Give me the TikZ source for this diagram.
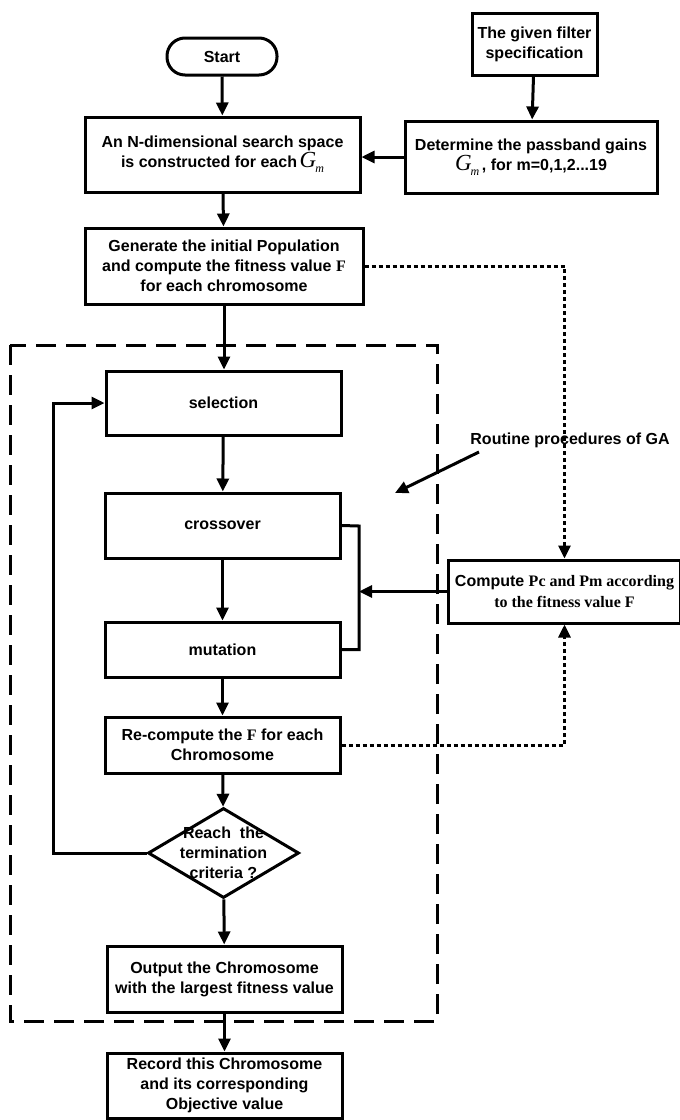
\documentclass[tikz,border=0pt]{standalone}
\usepackage{fontspec}
\setmainfont{Liberation Sans}
\newfontfamily\tms{Liberation Serif}
\usetikzlibrary{arrows.meta,shapes.geometric}
\newcommand{\Gm}{{\tms\mdseries\itshape\fontsize{23}{20}\selectfont G\kern-1pt\raisebox{-5pt}{\fontsize{12}{12}\selectfont m}}}
\newcommand{\tF}{{\tms\bfseries F}}
\begin{document}
\begin{tikzpicture}[x=1pt,y=-1pt,
	every node/.style={font=\fontsize{16}{20}\selectfont\bfseries,align=center,inner sep=1pt},
	proc/.style={rectangle,draw,line width=3pt},
	term/.style={proc,rounded corners=18pt},
	test/.style={diamond,draw,line width=3pt,inner sep=0pt},
	flow/.style={line width=3pt,-{Triangle[length=13pt,width=12pt]}},
	link/.style={line width=3pt},
	dots/.style={line width=3pt,dash pattern=on 4pt off 3pt},
	region/.style={line width=3pt,dash pattern=on 20pt off 10pt}]
\useasboundingbox (0,0) rectangle (680,1120);
\draw[region] (10,345) rectangle (437,1021);
\node[term,minimum width=110pt,minimum height=37pt] (start) at (222,56.5) {Start};
\node[proc,minimum width=275pt,minimum height=75pt] (space) at (222.5,154.5)
	{An N-dimensional search space\\is constructed for each\,\Gm};
\node[proc,minimum width=125pt,minimum height=62pt] (spec) at (534.5,44)
	{The given filter\\specification};
\node[proc,minimum width=252pt,minimum height=72pt] (gains) at (531,157)
	{Determine the passband gains\\\Gm\,, for m=0,1,2...19};
\node[proc,minimum width=278pt,minimum height=76pt] (init) at (224,266)
	{Generate the initial Population\\and compute the fitness value \tF\\for each chromosome};
\node[proc,minimum width=235pt,minimum height=64pt] (sel) at (223.5,403) {selection};
\node[proc,minimum width=235pt,minimum height=65pt] (cross) at (222.5,525.5) {crossover};
\node[proc,minimum width=235pt,minimum height=55pt] (mut) at (222.5,649.5) {mutation};
\node[proc,minimum width=235pt,minimum height=56pt] (recomp) at (222.5,745)
	{Re-compute the \tF\ for each\\Chromosome};
\node[test,minimum width=151pt,minimum height=90pt] (crit) at (223.5,853) {};
\node (critText) at (crit.center) {Reach~~the\\termination\\criteria ?};
\node[proc,minimum width=235pt,minimum height=66pt] (outp) at (224.5,979)
	{Output the Chromosome\\with the largest fitness value};
\node[proc,minimum width=235pt,minimum height=65pt] (rec) at (224.5,1085.5)
	{Record this Chromosome\\and its corresponding\\Objective value};
\node[proc,minimum width=232pt,minimum height=63pt,font=\fontsize{16}{21}\selectfont\bfseries] (comp) at (564.5,591.5)
	{Compute {\tms Pc and Pm according}\\{\tms to the fitness value F}};
\node (ga) at (570,440) {Routine procedures of GA};
\coordinate (gaFrom) at (479,452);
\coordinate (gaTip) at (395,493);
\coordinate (loopX) at (53,853);
\coordinate (joinX) at (359,526);
\draw[flow] (start) -- (space);
\draw[flow] (spec) -- (gains);
\draw[flow] (gains.west) -- (gains.west -| space.east);
\draw[flow] (space) -- (init);
\draw[flow] (init.south) -- (init.south |- sel.north);
\draw[flow] (sel) -- (cross);
\draw[flow] (cross) -- (mut);
\draw[flow] (mut) -- (recomp);
\draw[flow] (recomp) -- (crit);
\draw[flow] (crit) -- (outp);
\draw[flow] (outp) -- (rec);
\draw[flow] (crit.west) -- (loopX) |- (sel.west);
\draw[link] (cross.east) -- (joinX) |- (mut.east);
\draw[flow] (comp.west) -- (comp.west -| joinX);
\draw[dots,-{Triangle[length=13pt,width=12pt]}] (init.east) -| (comp.north);
\draw[dots,-{Triangle[length=13pt,width=12pt]}] (recomp.east) -| (comp.south);
\draw[flow] (gaFrom) -- (gaTip);
\end{tikzpicture}
\end{document}
